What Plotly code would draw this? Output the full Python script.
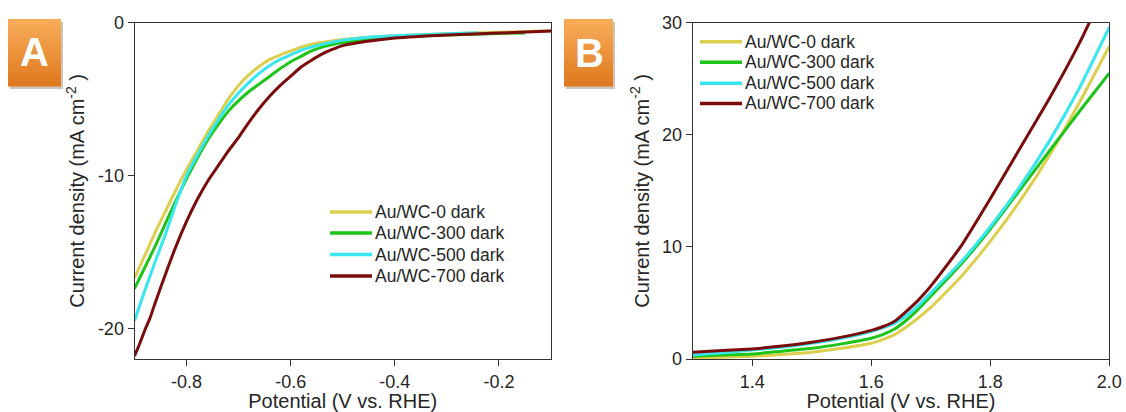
import plotly.graph_objects as go

W, H = 1126, 412

# ---- Panel A: cathodic LSV (HER), potential vs RHE ----
series_names = ["Au/WC-0 dark", "Au/WC-300 dark", "Au/WC-500 dark", "Au/WC-700 dark"]
series_colors = ["#DCCF4E", "#1FC41A", "#38E6F0", "#7A0C0C"]

a_x_wc0 = [-0.90, -0.88, -0.86, -0.84, -0.82, -0.80, -0.78, -0.76, -0.74, -0.72, -0.70,
           -0.68, -0.66, -0.64, -0.62, -0.60, -0.58, -0.55, -0.50, -0.45, -0.40, -0.30,
           -0.20, -0.10]
a_y_wc0 = [-16.7, -15.2, -13.7, -12.3, -10.9, -9.6, -8.4, -7.2, -6.1, -5.0, -4.1,
           -3.4, -2.85, -2.4, -2.1, -1.85, -1.6, -1.35, -1.1, -0.95, -0.85, -0.72,
           -0.62, -0.52]

a_x_wc300 = [-0.90, -0.88, -0.86, -0.84, -0.82, -0.80, -0.78, -0.76, -0.74, -0.72, -0.70,
             -0.68, -0.66, -0.64, -0.62, -0.60, -0.58, -0.56, -0.54, -0.50, -0.45, -0.40,
             -0.30, -0.20, -0.15]
a_y_wc300 = [-17.4, -16.0, -14.6, -13.1, -11.6, -10.2, -8.9, -7.7, -6.7, -5.8, -5.1,
             -4.5, -4.0, -3.5, -3.0, -2.55, -2.2, -1.85, -1.6, -1.3, -1.1, -0.95,
             -0.8, -0.7, -0.68]

a_x_wc500 = [-0.90, -0.88, -0.86, -0.84, -0.82, -0.80, -0.78, -0.76, -0.74, -0.72, -0.70,
             -0.68, -0.66, -0.64, -0.62, -0.60, -0.58, -0.55, -0.50, -0.45, -0.40, -0.30,
             -0.24]
a_y_wc500 = [-19.5, -17.5, -15.6, -13.8, -11.8, -10.0, -8.7, -7.5, -6.4, -5.4, -4.6,
             -3.9, -3.3, -2.8, -2.4, -2.1, -1.8, -1.5, -1.15, -0.95, -0.85, -0.72,
             -0.65]

a_x_wc700 = [-0.90, -0.89, -0.88, -0.87, -0.86, -0.84, -0.82, -0.80, -0.78, -0.76, -0.74,
             -0.72, -0.70, -0.68, -0.66, -0.64, -0.62, -0.60, -0.58, -0.56, -0.54, -0.52,
             -0.50, -0.46, -0.40, -0.30, -0.20, -0.10]
a_y_wc700 = [-21.8, -21.0, -20.1, -19.3, -18.3, -16.4, -14.6, -13.0, -11.6, -10.4, -9.4,
             -8.4, -7.5, -6.5, -5.6, -4.8, -4.1, -3.5, -2.9, -2.45, -2.05, -1.75,
             -1.5, -1.25, -1.0, -0.8, -0.68, -0.55]

# ---- Panel B: anodic LSV (OER) ----
b_x = [1.30, 1.35, 1.40, 1.45, 1.50, 1.55, 1.60, 1.62, 1.64, 1.66, 1.68, 1.70,
       1.75, 1.80, 1.85, 1.90, 1.95, 2.00]
b_y_wc0 = [0.1, 0.15, 0.25, 0.4, 0.6, 0.95, 1.4, 1.75, 2.2, 2.9, 3.7, 4.6,
           7.3, 10.5, 14.1, 18.2, 22.9, 27.9]
b_y_wc300 = [0.25, 0.35, 0.45, 0.7, 0.95, 1.35, 1.85, 2.2, 2.7, 3.5, 4.5, 5.6,
             8.4, 11.6, 15.1, 18.6, 22.1, 25.5]
b_y_wc500 = [0.35, 0.55, 0.8, 1.05, 1.4, 1.85, 2.45, 2.8, 3.2, 3.9, 4.8, 5.9,
             8.6, 11.8, 15.4, 19.5, 24.2, 29.6]
b_x_wc700 = [1.30, 1.35, 1.40, 1.45, 1.50, 1.55, 1.60, 1.62, 1.64, 1.66, 1.68, 1.70,
             1.75, 1.80, 1.85, 1.90, 1.95, 1.97]
b_y_wc700 = [0.6, 0.75, 0.9, 1.15, 1.5, 1.95, 2.55, 2.9, 3.4, 4.3, 5.3, 6.5,
             10.0, 14.3, 18.8, 23.3, 28.2, 30.4]

a_ticks = [-0.8, -0.6, -0.4, -0.2]
a_tick_text = ["-0.8", "-0.6", "-0.4", "-0.2"]
a_yticks = [0, -10, -20]
a_ytick_text = ["0", "-10", "-20"]
b_ticks = [1.4, 1.6, 1.8, 2.0]
b_tick_text = ["1.4", "1.6", "1.8", "2.0"]
b_yticks = [0, 10, 20, 30]

x_title = "Potential (V vs. RHE)"
y_title = "Current density (mA cm<sup>-2</sup> )"

FONT = "Liberation Sans, Arial, sans-serif"
TXT = "#262626"
LW = 3


def px_x(p):
    return p / W


def px_y(p):
    return 1 - p / H


fig = go.Figure()

a_data = [(a_x_wc0, a_y_wc0), (a_x_wc300, a_y_wc300), (a_x_wc500, a_y_wc500), (a_x_wc700, a_y_wc700)]
for name, color, (xs, ys) in zip(series_names, series_colors, a_data):
    fig.add_trace(go.Scatter(x=xs, y=ys, mode="lines", name=name, showlegend=False,
                             line=dict(color=color, width=LW, shape="spline", smoothing=0.5),
                             xaxis="x", yaxis="y"))

b_data = [(b_x, b_y_wc0), (b_x, b_y_wc300), (b_x, b_y_wc500), (b_x_wc700, b_y_wc700)]
for name, color, (xs, ys) in zip(series_names, series_colors, b_data):
    fig.add_trace(go.Scatter(x=xs, y=ys, mode="lines", name=name, showlegend=False,
                             line=dict(color=color, width=LW, shape="spline", smoothing=0.5),
                             xaxis="x2", yaxis="y2"))

title_font = dict(family=FONT, size=20, color=TXT)
axis_common = dict(showline=True, linecolor="#333333", linewidth=1, mirror=True,
                   ticks="outside", ticklen=6, tickcolor="#333333", tickwidth=1,
                   showgrid=False, zeroline=False, automargin=False,
                   tickfont=dict(family=FONT, size=18, color=TXT))
x_title_cfg = dict(text=x_title, font=title_font, standoff=6)
y_title_cfg = dict(text=y_title, font=title_font, standoff=7)

ya_dom = [px_y(359), px_y(22.7)]
fig.update_layout(
    width=W, height=H,
    margin=dict(l=0, r=0, t=0, b=0),
    paper_bgcolor="white", plot_bgcolor="white",
    xaxis=dict(domain=[px_x(134.5), px_x(551)], range=[-0.9, -0.1],
               tickvals=a_ticks, ticktext=a_tick_text, anchor="y", title=x_title_cfg,
               **axis_common),
    yaxis=dict(domain=ya_dom, range=[-22, 0], tickvals=a_yticks,
               ticktext=a_ytick_text, anchor="x", title=y_title_cfg, **axis_common),
    xaxis2=dict(domain=[px_x(692.7), px_x(1109.3)], range=[1.3, 2.0],
                tickvals=b_ticks, ticktext=b_tick_text, anchor="y2", title=x_title_cfg,
                **axis_common),
    yaxis2=dict(domain=ya_dom, range=[0, 30], tickvals=b_yticks, anchor="x2",
                title=y_title_cfg, **axis_common),
    showlegend=False,
)

annotations = []
shapes = []

# Legends: coloured line sample followed by the series name
legend_font = dict(family=FONT, size=17.5, color=TXT)


def legend_block(x_line0, x_line1, rows):
    for name, color, yc in zip(series_names, series_colors, rows):
        shapes.append(dict(type="line", xref="paper", yref="paper",
                           x0=px_x(x_line0), x1=px_x(x_line1), y0=px_y(yc), y1=px_y(yc),
                           line=dict(color=color, width=3.5)))
        annotations.append(dict(text=name, x=px_x(x_line1 + 0.5), y=px_y(yc), xref="paper",
                                yref="paper", showarrow=False, xanchor="left",
                                yanchor="middle", font=legend_font))


legend_block(330, 372, [212, 233, 254.5, 276])
legend_block(700, 742, [41.7, 62.3, 83.3, 103.5])


# Orange panel badges with a vertical gradient and soft drop shadow
def hex_mix(c1, c2, t):
    a = [int(c1[i:i + 2], 16) for i in (1, 3, 5)]
    b = [int(c2[i:i + 2], 16) for i in (1, 3, 5)]
    return "#" + "".join(f"{round(a[k] + (b[k] - a[k]) * t):02x}" for k in range(3))


def badge(x0, y0, x1, y1, letter, cx, cy):
    shapes.append(dict(type="rect", xref="paper", yref="paper",
                       x0=px_x(x0 + 2), x1=px_x(x1 + 2), y0=px_y(y1 + 3), y1=px_y(y0 + 3),
                       fillcolor="rgba(90,60,30,0.30)", line=dict(width=0), layer="below"))
    n = 14
    for i in range(n):
        t = i / (n - 1)
        col = hex_mix("#F8AC58", "#E07A20", t)
        ya = y0 + (y1 - y0) * i / n
        yb = y0 + (y1 - y0) * (i + 1) / n
        shapes.append(dict(type="rect", xref="paper", yref="paper",
                           x0=px_x(x0), x1=px_x(x1), y0=px_y(yb + 0.5), y1=px_y(ya),
                           fillcolor=col, line=dict(width=0), layer="below"))
    annotations.append(dict(text=letter, x=px_x(cx), y=px_y(cy), xref="paper",
                            yref="paper", showarrow=False, xanchor="center", yanchor="middle",
                            font=dict(family=FONT, size=40, color="white", weight="bold")))


badge(8, 19, 61, 86, "A", 34, 52)
badge(564, 19, 613, 86, "B", 589, 53)

fig.update_layout(annotations=annotations, shapes=shapes)

fig.write_html("out.html")
